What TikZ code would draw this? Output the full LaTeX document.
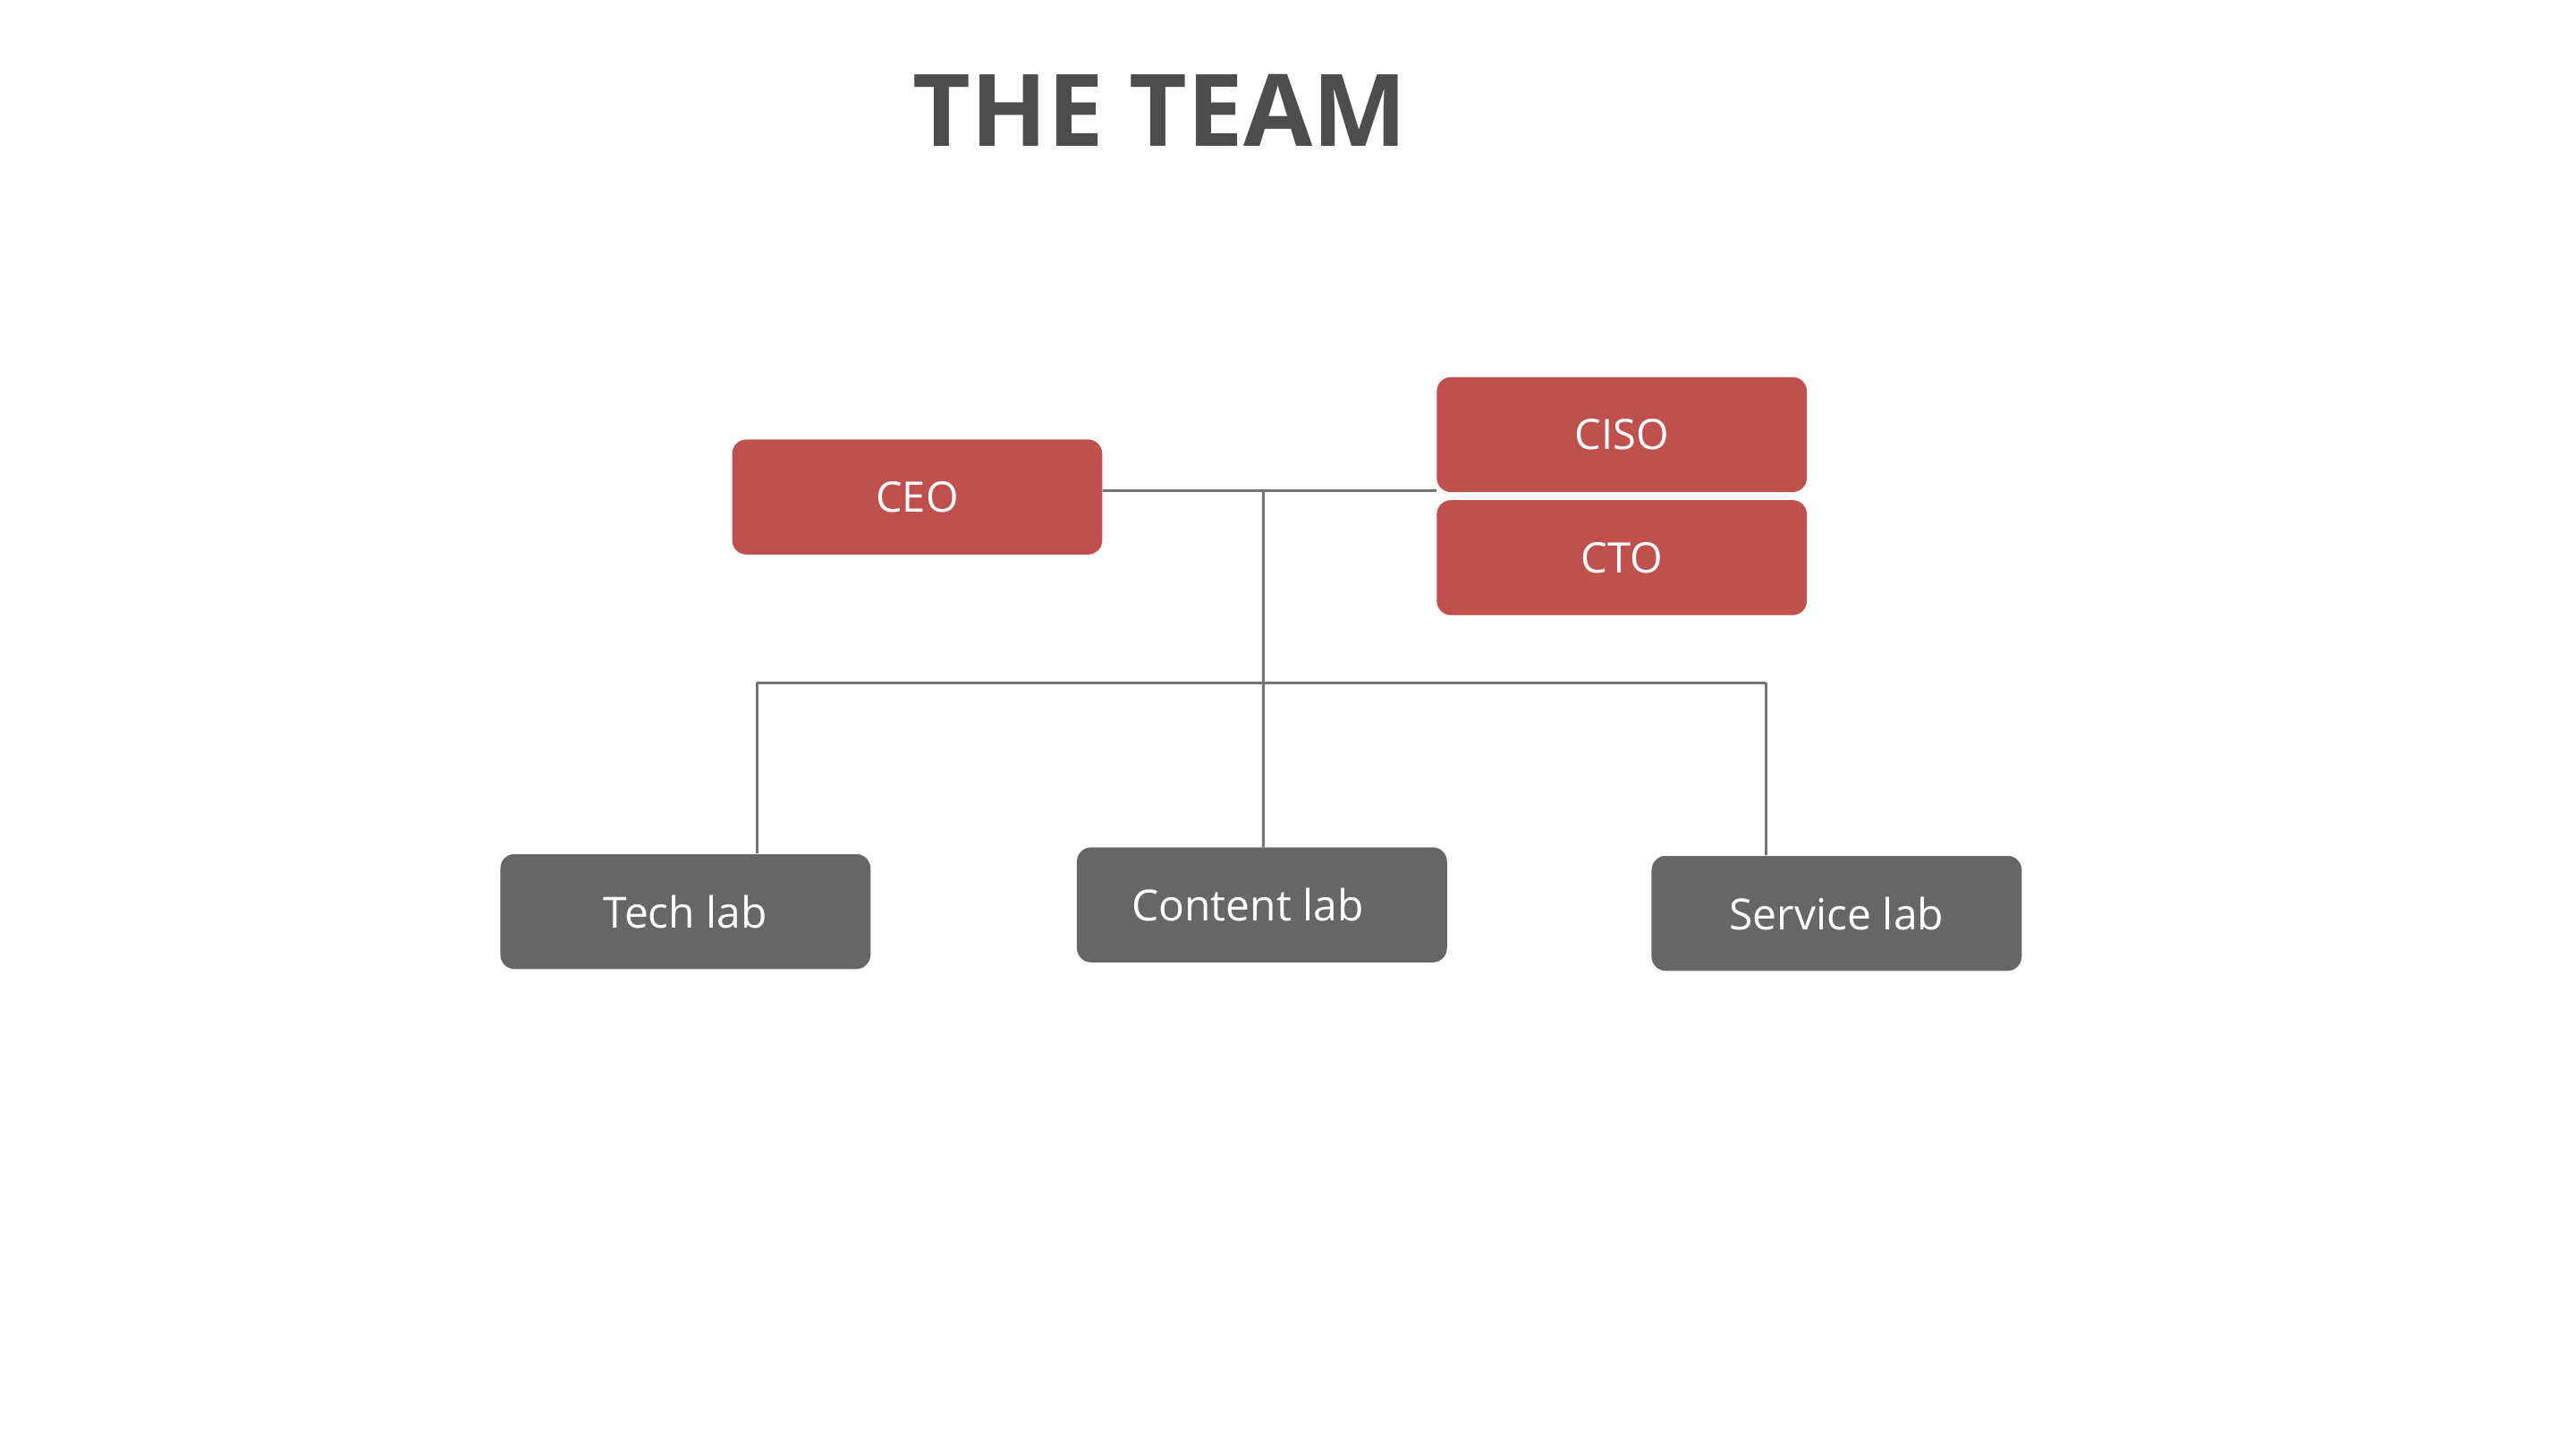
\documentclass[tikz,border=0pt]{standalone}
\usepackage{fontspec}
\setmainfont{Open Sans}
\definecolor{boxred}{HTML}{C0504D}
\definecolor{boxgray}{HTML}{666666}
\definecolor{linegray}{HTML}{737373}
\definecolor{titlegray}{HTML}{4D4D4D}
\begin{document}
\begin{tikzpicture}[x=0.4973pt,y=-0.4983pt,
  redbox/.style={draw=none,fill=boxred,rounded corners=8pt,minimum width=206.9pt,minimum height=64.3pt,inner sep=0pt,text=white,font=\fontsize{23.5}{28}\selectfont},
  graybox/.style={draw=none,fill=boxgray,rounded corners=8pt,minimum width=206.9pt,minimum height=64.3pt,inner sep=0pt,text=white,font=\fontsize{24}{29}\selectfont},
  conn/.style={draw=linegray,line width=1.6pt}]
\useasboundingbox (0,0) rectangle (2895.6,1625.5);
\node[text=titlegray,font=\fontsize{56}{67}\bfseries\selectfont,anchor=center] (title) at (1304,124) {THE TEAM};
\node[redbox] (ceo) at (1031,557.5) {CEO};
\node[redbox] (ciso) at (1823,487.5) {CISO};
\node[redbox] (cto) at (1823,625.5) {CTO};
\node[graybox] (tech) at (770.5,1022.5) {Tech lab};
\node[graybox] (content) at (1418.5,1015) {Content lab\kern16pt};
\node[graybox] (service) at (2064.5,1024.5) {Service lab};
\coordinate (j1) at (1420,550);
\coordinate (bl) at (851,766);
\coordinate (br) at (1985,766);
\draw[conn] (ceo.east |- j1) -- (ciso.west |- j1);
\draw[conn] (j1) -- (j1 |- content.north);
\draw[conn] (bl) -- (br);
\draw[conn] (bl) -- (bl |- tech.north);
\draw[conn] (br) -- (br |- service.north);
\end{tikzpicture}
\end{document}
